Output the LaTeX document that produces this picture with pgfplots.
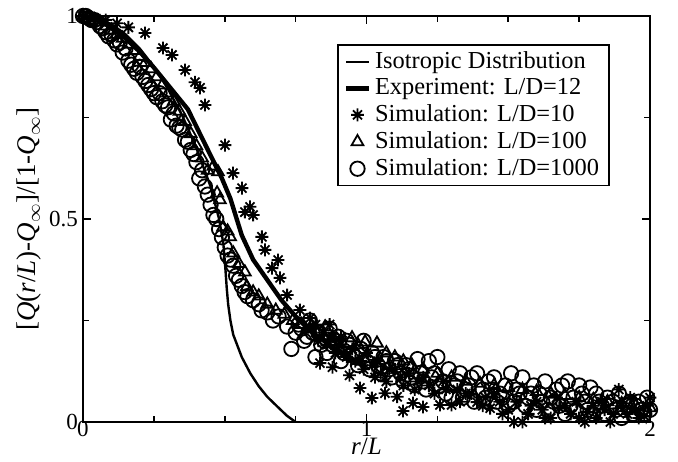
\documentclass[border=0pt]{standalone}
\usepackage{pgfplots}
\pgfplotsset{compat=1.18}
\usepackage{fontspec}
\setmainfont{Liberation Serif}

% eight-spoke asterisk like the original symbols
\pgfdeclareplotmark{ast8}{%
  \pgfpathmoveto{\pgfqpoint{-\pgfplotmarksize}{0pt}}\pgfpathlineto{\pgfqpoint{\pgfplotmarksize}{0pt}}%
  \pgfpathmoveto{\pgfqpoint{0pt}{-\pgfplotmarksize}}\pgfpathlineto{\pgfqpoint{0pt}{\pgfplotmarksize}}%
  \pgfpathmoveto{\pgfqpoint{-0.707\pgfplotmarksize}{-0.707\pgfplotmarksize}}\pgfpathlineto{\pgfqpoint{0.707\pgfplotmarksize}{0.707\pgfplotmarksize}}%
  \pgfpathmoveto{\pgfqpoint{-0.707\pgfplotmarksize}{0.707\pgfplotmarksize}}\pgfpathlineto{\pgfqpoint{0.707\pgfplotmarksize}{-0.707\pgfplotmarksize}}%
  \pgfusepathqstroke}

\begin{document}
\begin{tikzpicture}
\path[use as bounding box] (-41.5pt,-19.5pt) rectangle (297.5pt,211pt);
\begin{axis}[
  at={(0,0)}, anchor=south west,
  scale only axis,
  width=283.5pt, height=203pt,
  xmin=0, xmax=2, ymin=0, ymax=1,
  clip=false,
  axis line style={line width=1pt},
  xtick={0,1,2}, minor xtick={0.25,0.5,0.75,1.25,1.5,1.75},
  ytick={0,0.5,1}, minor ytick={0.25,0.75},
  tick align=inside, tick pos=both,
  major tick length=4pt, minor tick length=3pt,
  every tick/.style={line width=0.8pt, black},
  /pgf/number format/assume math mode=true,
  tick label style={font=\fontsize{11.5}{11.5}\selectfont},
  xticklabel style={inner ysep=0pt, yshift=0.5pt},
  yticklabel style={xshift=1pt},
  xlabel={\textit{r}/\textit{L}},
  xlabel style={font=\fontsize{12.5}{12.5}\selectfont, at={(axis description cs:0.5,-0.08)}, anchor=base, inner ysep=0pt},
  ylabel={[\textit{Q}(\textit{r}/\textit{L})-\textit{Q}$_\infty$]/[1-\textit{Q}$_\infty$]},
  ylabel style={font=\fontsize{13.5}{15}\selectfont, at={(axis description cs:-0.095,0.5)}, anchor=center},
  legend style={at={(0.929,0.931)}, anchor=north east, draw=black, line width=0.8pt,
    font=\fontsize{12.2}{12.5}\selectfont, cells={anchor=west}, inner xsep=3pt, inner ysep=1.5pt,
    row sep=-0.5pt},
  legend image code/.code={\draw[mark repeat=2,mark phase=2,#1] plot coordinates {(0cm,0cm) (0.2cm,0cm) (0.4cm,0cm)};},
]
% isotropic distribution
\addplot[black, line width=1.2pt, no marks] coordinates {
 (0,1) (0.05,0.995) (0.1,0.98) (0.15,0.955) (0.2,0.92) (0.25,0.875) (0.3,0.82)
 (0.35,0.755) (0.4,0.675) (0.45,0.58) (0.48,0.5) (0.495,0.44) (0.502,0.38)
 (0.507,0.33) (0.512,0.29) (0.52,0.25) (0.53,0.215) (0.56,0.16) (0.59,0.12)
 (0.62,0.088) (0.65,0.062) (0.69,0.035) (0.72,0.015) (0.75,0)
};
\addlegendentry{Isotropic Distribution}
% experiment L/D=12
\addplot[black, line width=2.2pt, no marks] coordinates {
 (0,1) (0.05,0.99) (0.1,0.972) (0.15,0.945) (0.2,0.912) (0.25,0.873) (0.3,0.83)
 (0.37,0.77) (0.43,0.685) (0.49,0.6) (0.52,0.55) (0.56,0.46) (0.6,0.4)
 (0.65,0.35) (0.7,0.3) (0.75,0.26) (0.8,0.225) (0.85,0.2) (0.9,0.175)
 (0.95,0.155) (1.0,0.135)
};
\addlegendentry{Experiment: L/D=12}
% simulation L/D=10
\addplot[black, only marks, mark=ast8, mark size=3.2pt, mark options={line width=0.9pt}] coordinates {
 (0,1) (0.04,0.995) (0.08,0.99) (0.12,0.982) (0.16,0.972) (0.219,0.958)
 (0.282,0.921) (0.314,0.904) (0.36,0.867) (0.395,0.837) (0.413,0.823)
 (0.43,0.781) (0.501,0.682) (0.529,0.613) (0.561,0.576) (0.589,0.53)
 (0.571,0.517) (0.6,0.51) (0.631,0.456) (0.642,0.424) (0.688,0.399)
 (0.667,0.379) (0.695,0.355) (0.72,0.313) (0.765,0.276) (0.801,0.256)
 (0.82,0.24) (0.836,0.145) (0.85,0.22) (0.88,0.135) (0.88,0.21) (0.9,0.19)
 (0.92,0.17) (0.94,0.115) (0.95,0.18) (0.977,0.084) (0.98,0.15) (1.019,0.059)
 (1.02,0.14) (1.05,0.12) (1.065,0.071) (1.08,0.13) (1.108,0.062) (1.12,0.11)
 (1.129,0.027) (1.15,0.12) (1.164,0.047) (1.18,0.1) (1.199,0.037) (1.22,0.09)
 (1.259,0.042) (1.27,0.1) (1.3,0.042) (1.32,0.08) (1.35,0.07) (1.39,0.049)
 (1.42,0.06) (1.436,0.034) (1.47,0.05) (1.5,0.03) (1.52,0.0) (1.55,0.0)
 (1.58,0.04) (1.62,0.03) (1.65,0.01) (1.68,0.035) (1.72,0.02) (1.75,0.01)
 (1.78,0.025) (1.81,0.01) (1.84,0.03) (1.87,0.02) (1.89,0.08) (1.92,0.02)
 (1.95,0.03) (1.98,0.015) (2.0,0.06)
 (0.81,0.23) (0.83,0.2) (0.86,0.19) (0.87,0.24) (0.89,0.17) (0.91,0.21)
 (0.93,0.16) (0.96,0.15) (0.99,0.13) (1.0,0.17) (1.03,0.11) (1.04,0.15)
 (1.07,0.1) (1.1,0.13) (1.13,0.09) (1.17,0.08) (1.2,0.11) (1.24,0.07)
 (1.28,0.08) (1.33,0.05) (1.37,0.07) (1.41,0.04) (1.45,0.07) (1.48,0.02)
 (1.53,0.05) (1.57,0.02) (1.6,0.05) (1.63,0.01) (1.67,0.06) (1.7,0.04)
 (1.74,0.05) (1.77,0.0) (1.8,0.04) (1.83,0.05) (1.86,0.0) (1.9,0.04)
 (1.93,0.06) (1.96,0.01) (1.99,0.04)
};
\addlegendentry{Simulation: L/D=10}
% simulation L/D=100
\addplot[black, only marks, mark=triangle, mark size=3.4pt, mark options={line width=0.9pt}] coordinates {
 (0,1) (0.02,0.995) (0.04,0.99) (0.06,0.985) (0.08,0.975) (0.1,0.965)
 (0.12,0.955) (0.14,0.945) (0.16,0.93) (0.18,0.915) (0.2,0.9) (0.22,0.885)
 (0.24,0.87) (0.26,0.85) (0.28,0.83) (0.3,0.81) (0.32,0.79) (0.34,0.765)
 (0.36,0.74) (0.38,0.71) (0.4,0.68) (0.42,0.65) (0.44,0.62) (0.46,0.63)
 (0.476,0.616) (0.473,0.564) (0.483,0.547) (0.494,0.48) (0.51,0.47)
 (0.519,0.456) (0.53,0.416) (0.55,0.39) (0.571,0.369) (0.578,0.333)
 (0.6,0.32) (0.62,0.31) (0.65,0.29) (0.68,0.275) (0.71,0.265) (0.74,0.25)
 (0.77,0.24) (0.8,0.23) (0.83,0.22) (0.854,0.234) (0.88,0.21) (0.91,0.2)
 (0.949,0.207) (0.97,0.19) (0.995,0.197) (1.037,0.194) (1.07,0.17) (1.1,0.16)
 (1.13,0.15) (1.16,0.14) (1.2,0.13) (1.25,0.12) (1.3,0.11) (1.35,0.1)
 (1.4,0.095) (1.45,0.09) (1.5,0.085) (1.55,0.08) (1.6,0.075) (1.65,0.07)
 (1.7,0.065) (1.75,0.06) (1.8,0.055) (1.85,0.05) (1.9,0.045) (1.95,0.04) (2.0,0.035)
};
\addlegendentry{Simulation: L/D=100}
% simulation L/D=1000
\addplot[black, only marks, mark=o, mark size=3.6pt, mark options={line width=0.9pt}] coordinates {
 (0,1) (0.01,1) (0.02,0.995) (0.03,0.99) (0.04,0.99) (0.05,0.985) (0.06,0.975)
 (0.07,0.97) (0.08,0.96) (0.09,0.95) (0.1,0.955) (0.11,0.94) (0.12,0.93)
 (0.13,0.935) (0.14,0.91) (0.15,0.92) (0.16,0.89) (0.17,0.88) (0.18,0.87)
 (0.19,0.86) (0.2,0.875) (0.21,0.85) (0.22,0.84) (0.23,0.83) (0.24,0.82)
 (0.25,0.81) (0.26,0.8) (0.27,0.81) (0.28,0.79) (0.29,0.78) (0.3,0.775)
 (0.31,0.745) (0.32,0.76) (0.33,0.73) (0.34,0.725) (0.35,0.72) (0.36,0.695)
 (0.37,0.69) (0.38,0.67) (0.39,0.66) (0.4,0.64) (0.41,0.6) (0.42,0.62)
 (0.43,0.58) (0.44,0.56) (0.45,0.535) (0.46,0.51) (0.47,0.5) (0.48,0.475)
 (0.49,0.455) (0.5,0.43) (0.51,0.41) (0.52,0.4) (0.53,0.385) (0.54,0.36)
 (0.55,0.35) (0.56,0.335) (0.57,0.32) (0.58,0.31) (0.6,0.3) (0.62,0.29)
 (0.63,0.275) (0.65,0.27) (0.67,0.25) (0.69,0.26) (0.72,0.235) (0.735,0.18)
 (0.75,0.22) (0.77,0.23) (0.79,0.21) (0.8,0.25) (0.82,0.16) (0.83,0.22)
 (0.85,0.2) (0.87,0.23) (0.88,0.19) (0.9,0.21) (0.92,0.17) (0.94,0.19)
 (0.96,0.16) (0.98,0.18) (1.0,0.15) (1.02,0.17) (1.04,0.14) (1.06,0.16)
 (1.08,0.13) (1.1,0.15) (1.12,0.12) (1.14,0.14) (1.16,0.11) (1.18,0.155)
 (1.2,0.1) (1.22,0.15) (1.24,0.12) (1.25,0.16) (1.27,0.1) (1.29,0.13)
 (1.3,0.06) (1.31,0.09) (1.33,0.12) (1.35,0.08) (1.37,0.11) (1.39,0.12)
 (1.41,0.08) (1.43,0.1) (1.45,0.11) (1.47,0.07) (1.49,0.09) (1.5,0.04)
 (1.51,0.12) (1.53,0.08) (1.55,0.11) (1.57,0.06) (1.59,0.09) (1.6,0.03)
 (1.61,0.07) (1.63,0.1) (1.65,0.06) (1.67,0.08) (1.69,0.09) (1.7,0.02)
 (1.71,0.1) (1.73,0.06) (1.75,0.09) (1.77,0.05) (1.79,0.085) (1.8,0.02)
 (1.81,0.07) (1.83,0.04) (1.85,0.06) (1.87,0.05) (1.89,0.07) (1.9,0.01)
 (1.91,0.03) (1.93,0.05) (1.95,0.04) (1.97,0.03) (1.99,0.06) (2.0,0.03)
 (0.76,0.24) (0.78,0.2) (0.81,0.22) (0.84,0.19) (0.86,0.17) (0.89,0.2)
 (0.91,0.15) (0.93,0.2) (0.95,0.17) (0.97,0.14) (0.99,0.2) (1.01,0.13)
 (1.03,0.16) (1.05,0.12) (1.07,0.15) (1.09,0.11) (1.11,0.14) (1.13,0.1)
 (1.15,0.13) (1.17,0.09) (1.19,0.12) (1.21,0.08) (1.23,0.11) (1.26,0.09)
 (1.28,0.07) (1.32,0.1) (1.34,0.06) (1.36,0.09) (1.38,0.05) (1.42,0.06)
 (1.44,0.08) (1.46,0.05) (1.48,0.06) (1.52,0.05) (1.54,0.07) (1.56,0.04)
 (1.58,0.07) (1.62,0.05) (1.64,0.03) (1.66,0.05) (1.68,0.04) (1.72,0.04)
 (1.74,0.03) (1.76,0.07) (1.78,0.03) (1.82,0.05) (1.84,0.02) (1.86,0.04)
 (1.88,0.03) (1.92,0.04) (1.94,0.02) (1.96,0.05) (1.98,0.02)
};
\addlegendentry{Simulation: L/D=1000}
\end{axis}
\end{tikzpicture}
\end{document}
